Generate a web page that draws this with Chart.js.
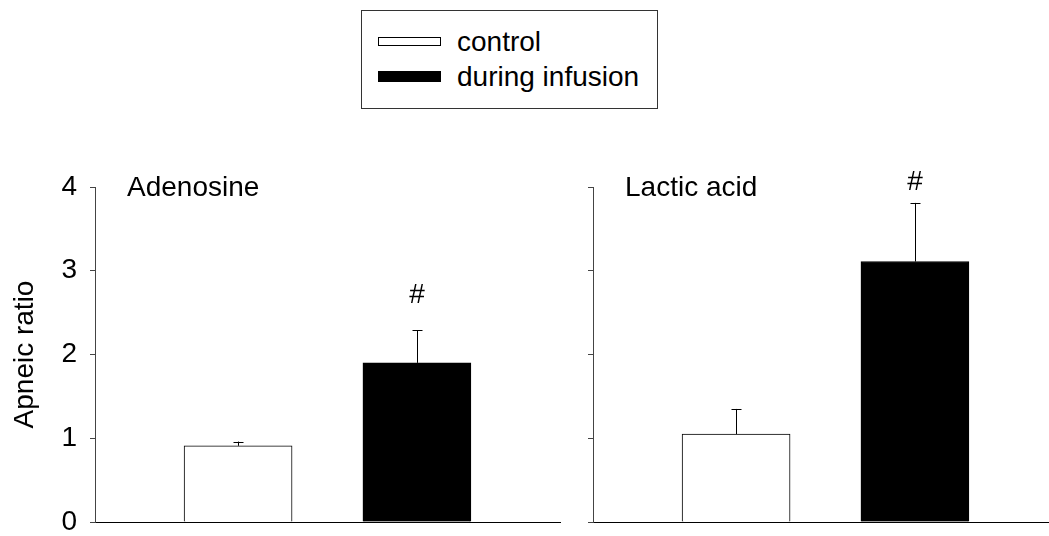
<!DOCTYPE html>
<html>
<head>
<meta charset="utf-8">
<script src="https://cdn.jsdelivr.net/npm/chart.js@4/dist/chart.umd.min.js"></script>
<style>
  body { margin: 0; background: #fff; font-family: "Liberation Sans", Arial, sans-serif; }
  #page { position: relative; width: 1049px; height: 536px; overflow: hidden; }
  canvas { position: absolute; top: 0; }
  #legend { position: absolute; left: 361px; top: 10px; width: 295px; height: 97px; border: 1px solid #333; }
  .swatch { position: absolute; left: 16px; width: 63px; box-sizing: border-box; border: 1px solid #000; }
  .label { position: absolute; left: 95px; font-size: 28px; line-height: 28px; color: #000; white-space: nowrap; }
</style>
</head>
<body>
<div id="page">
  <div id="legend"></div>
  <canvas id="leftChart" width="570" height="536" style="left:0"></canvas>
  <canvas id="rightChart" width="479" height="536" style="left:570px"></canvas>
</div>
<script>
const FONT = "'Liberation Sans', Arial, sans-serif";

// data
const groups = ["Adenosine", "Lactic acid"];
const conditions = ["control", "during infusion"];
const conditionColors = ["#ffffff", "#000000"];
const xSlots = [1, 2];
const adenosineMean = [0.91, 1.90];
const adenosineSem = [0.05, 0.39];
const adenosineSig = [null, 2.62]; // "#" baseline, in y units
const lacticMean = [1.05, 3.11];
const lacticSem = [0.30, 0.70];
const lacticSig = [null, 3.97];
const yTicks = [0, 1, 2, 3, 4];

// legend (plain html, sits above both panels)
const legend = document.getElementById("legend");
const swatchTops = [26, 60];
const swatchHeights = [9, 11];
const labelTops = [17, 52];
conditions.forEach((name, i) => {
  const sw = document.createElement("div");
  sw.className = "swatch";
  sw.style.top = swatchTops[i] + "px";
  sw.style.height = swatchHeights[i] + "px";
  sw.style.background = conditionColors[i];
  legend.appendChild(sw);
  const lb = document.createElement("div");
  lb.className = "label";
  lb.style.top = labelTops[i] + "px";
  lb.textContent = name;
  legend.appendChild(lb);
});

// error bars (upper half only), "#" marks and the panel name
const panelExtras = {
  id: "panelExtras",
  afterDatasetsDraw(chart, args, opts) {
    const ctx = chart.ctx;
    const yScale = chart.scales.y;
    const meta = chart.getDatasetMeta(0);
    ctx.save();
    ctx.strokeStyle = "#000";
    ctx.lineWidth = 1;
    meta.data.forEach((bar, i) => {
      const top = yScale.getPixelForValue(opts.means[i] + opts.sems[i]);
      const x = Math.round(bar.x) + 0.5;
      ctx.beginPath();
      ctx.moveTo(x, bar.y);
      ctx.lineTo(x, top);
      ctx.moveTo(x - 5, Math.round(top) + 0.5);
      ctx.lineTo(x + 5, Math.round(top) + 0.5);
      ctx.stroke();
      if (opts.sig[i] !== null) {
        ctx.fillStyle = "#000";
        ctx.font = "28px " + FONT;
        ctx.textAlign = "center";
        ctx.textBaseline = "alphabetic";
        ctx.fillText("#", bar.x, yScale.getPixelForValue(opts.sig[i]));
      }
    });
    ctx.fillStyle = "#000";
    ctx.font = "28px " + FONT;
    ctx.textAlign = "left";
    ctx.textBaseline = "alphabetic";
    ctx.fillText(opts.name, chart.chartArea.left + 32, yScale.getPixelForValue(4) + 9);
    ctx.restore();
  },
};

function makePanel(canvasId, name, means, sems, sig, showLabels, yWidth, xMax, padRight) {
  const ctx = document.getElementById(canvasId).getContext("2d");
  return new Chart(ctx, {
    type: "bar",
    data: {
      datasets: [
        {
          label: name,
          data: xSlots.map((x, i) => ({ x: x, y: means[i] })),
          backgroundColor: conditionColors,
          borderColor: "#000",
          borderWidth: 1,
          barThickness: 108,
        },
      ],
    },
    options: {
      responsive: false,
      animation: false,
      devicePixelRatio: 1,
      layout: { padding: { top: 187, right: padRight, left: 0, bottom: 0 } },
      plugins: {
        legend: { display: false },
        tooltip: { enabled: false },
        panelExtras: { name: name, means: means, sems: sems, sig: sig },
      },
      scales: {
        x: {
          type: "linear",
          offset: false,
          min: 0.2,
          max: xMax,
          ticks: { display: false },
          grid: { display: false, offset: false },
          border: { color: "#000", width: 1 },
          afterFit: (scale) => {
            scale.height = 14;
            scale.paddingLeft = 0;
            scale.paddingRight = 0;
          },
        },
        y: {
          min: 0,
          max: 4,
          afterBuildTicks: (scale) => {
            scale.ticks = yTicks.map((v) => ({ value: v }));
          },
          ticks: {
            display: showLabels,
            padding: 13,
            color: "#000",
            font: { size: 28, family: FONT },
          },
          grid: { drawOnChartArea: false, drawTicks: true, tickLength: 5, color: "#444" },
          border: { color: "#444", width: 1 },
          title: {
            display: showLabels,
            text: "Apneic ratio",
            color: "#000",
            font: { size: 28, family: FONT },
            padding: { top: 8, bottom: 0 },
          },
          afterFit: (scale) => {
            scale.width = yWidth;
            scale.paddingTop = 0;
            scale.paddingBottom = 0;
          },
        },
      },
    },
    plugins: [panelExtras],
  });
}

makePanel("leftChart", groups[0], adenosineMean, adenosineSem, adenosineSig, true, 95, 2.8, 10);
makePanel("rightChart", groups[1], lacticMean, lacticSem, lacticSig, false, 23, 2.744, 1);
</script>
</body>
</html>
